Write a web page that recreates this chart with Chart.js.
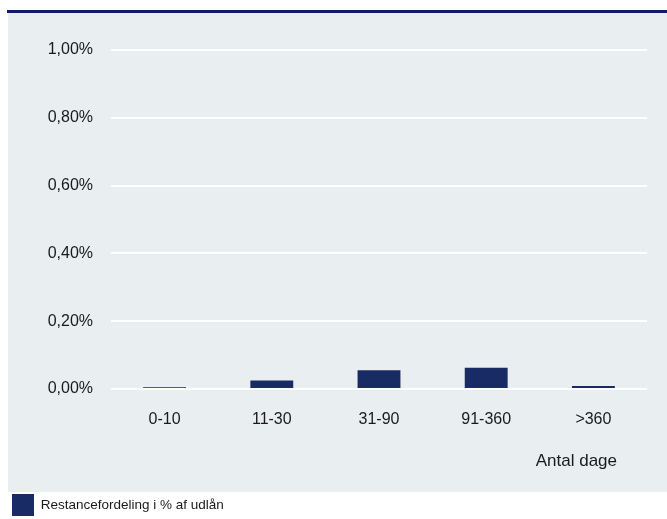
<!DOCTYPE html>
<html>
<head>
<meta charset="utf-8">
<script src="https://cdn.jsdelivr.net/npm/chart.js@4/dist/chart.umd.min.js"></script>
<style>
    html, body { margin: 0; padding: 0; background: #ffffff; }
    #wrap { width: 667px; height: 519px; position: relative; }
</style>
</head>
<body>
<div id="wrap"><canvas id="restChart"></canvas></div>
<script>
// Arrears by number of days, % of loans
const categories = ["0-10", "11-30", "31-90", "91-360", ">360"];
const restValues = [0.005, 0.025, 0.055, 0.063, 0.009];
const yTicks = [0, 0.2, 0.4, 0.6, 0.8, 1.0];
const seriesLabel = "Restancefordeling i % af udlån";
const xTitle = "Antal dage";

const fontFamily = "'Liberation Sans', Arial, sans-serif";
const navy = "#182b65";

// Grey panel, blue rule on top and the x-axis caption
const panelPlugin = {
    id: "panel",
    beforeDraw(chart) {
        const ctx = chart.ctx;
        ctx.save();
        ctx.fillStyle = "#ffffff";
        ctx.fillRect(0, 0, chart.width, chart.height);
        ctx.fillStyle = "#e9eef1";
        ctx.fillRect(8, 13, chart.width - 8, 479);
        ctx.fillStyle = "#121a6e";
        ctx.fillRect(7, 10, chart.width - 7, 3);
        ctx.restore();
    },
    afterDraw(chart) {
        const ctx = chart.ctx;
        const area = chart.chartArea;
        ctx.save();
        ctx.fillStyle = "#1a1a1a";
        ctx.font = "17px " + fontFamily;
        ctx.textAlign = "right";
        ctx.textBaseline = "middle";
        ctx.fillText(xTitle, area.right - 30, 461);
        ctx.restore();
    }
};

new Chart(document.getElementById("restChart"), {
    type: "bar",
    data: {
        labels: categories,
        datasets: [{
            label: seriesLabel,
            data: restValues,
            backgroundColor: navy,
            borderWidth: 0,
            categoryPercentage: 1,
            barPercentage: 0.4
        }]
    },
    options: {
        responsive: true,
        maintainAspectRatio: false,
        animation: false,
        layout: { padding: { left: 9, right: 20, top: 50, bottom: -7 } },
        plugins: {
            legend: {
                display: true,
                position: "bottom",
                align: "start",
                labels: {
                    boxWidth: 22,
                    boxHeight: 22,
                    padding: 3,
                    color: "#1a1a1a",
                    font: { size: 13.5, family: fontFamily }
                }
            },
            tooltip: { enabled: false }
        },
        scales: {
            x: {
                grid: { display: false, drawTicks: false },
                border: { display: false },
                ticks: {
                    color: "#1a1a1a",
                    padding: 21,
                    font: { size: 16, family: fontFamily }
                },
                afterFit: (scale) => { scale.height = 102; }
            },
            y: {
                min: 0,
                max: 1,
                afterBuildTicks: (scale) => {
                    scale.ticks = yTicks.map(v => ({ value: v }));
                },
                grid: { color: "#ffffff", lineWidth: 2, drawTicks: false },
                border: { display: false },
                ticks: {
                    color: "#1a1a1a",
                    padding: 18,
                    font: { size: 16, family: fontFamily },
                    callback: (v) => v.toFixed(2).replace(".", ",") + "%"
                },
                afterFit: (scale) => { scale.width = 102; }
            }
        }
    },
    plugins: [panelPlugin]
});
</script>
</body>
</html>
